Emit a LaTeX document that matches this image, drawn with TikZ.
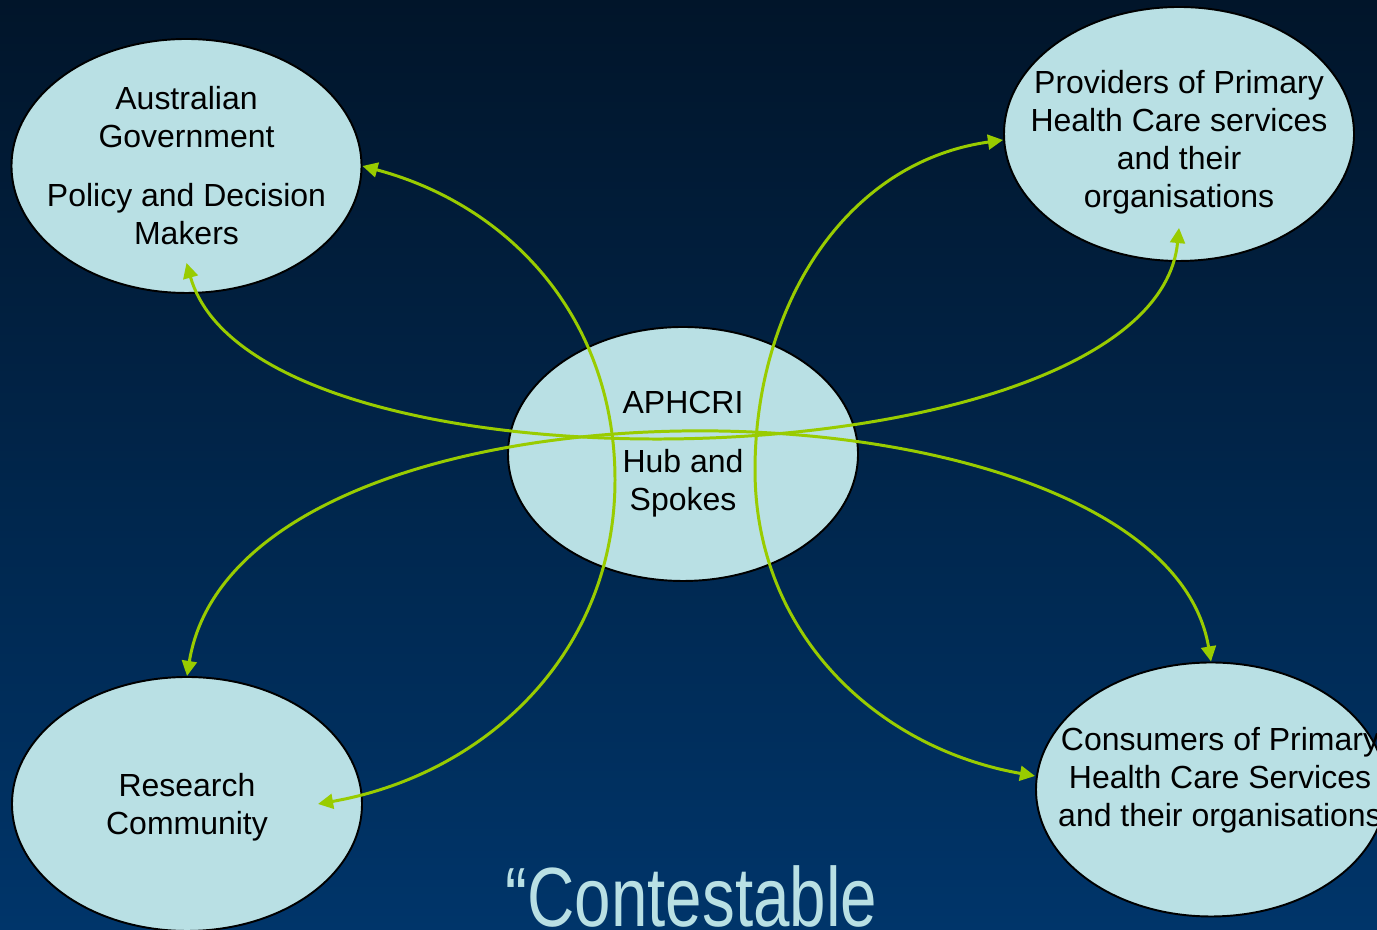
\documentclass[tikz,border=0pt]{standalone}
\usepackage{fontspec}
\setmainfont{Liberation Sans}
\usepackage{graphicx}
\usetikzlibrary{arrows.meta, shapes.geometric}

% colors
\definecolor{bgtop}{RGB}{1,21,42}
\definecolor{bgmid}{RGB}{0,42,86}
\definecolor{bgbot}{RGB}{0,53,106}
\definecolor{bubblefill}{RGB}{185,224,228}
\definecolor{linkgreen}{RGB}{153,204,0}

\begin{document}
\begin{tikzpicture}

% -------------------------------------------------------
% Layout parameters
% -------------------------------------------------------
\def\slideW{13.77}   % slide width
\def\slideH{9.30}    % slide height
\def\bw{3.50cm}      % bubble width
\def\bh{2.54cm}      % bubble height

% bubble centres
\def\xGov{1.865}   \def\yGov{7.64}
\def\xProv{11.79}  \def\yProv{7.96}
\def\xHub{6.83}    \def\yHub{4.76}
\def\xRes{1.87}    \def\yRes{1.26}
\def\xCons{12.11}  \def\yCons{1.405}

\tikzset{
  bubble/.style={ellipse, draw=black, line width=0.55pt, fill=bubblefill,
    minimum width=\bw, minimum height=\bh, inner sep=0pt},
  bubbletext/.style={align=center, inner sep=0pt, text=black,
    font=\fontsize{9.1}{10.8}\selectfont},
  link/.style={linkgreen, line width=0.85pt,
    {Triangle[length=4.3pt,width=4.2pt]}-{Triangle[length=4.3pt,width=4.2pt]}},
}

\useasboundingbox (0,0) rectangle (\slideW,\slideH);
\clip (0,0) rectangle (\slideW,\slideH);

% background
\shade[top color=bgtop, middle color=bgmid, bottom color=bgbot] (0,0) rectangle (\slideW,\slideH);

%%%%%% DRAW BUBBLES
\node[bubble] (gov)  at (\xGov,\yGov)   {};
\node[bubble] (prov) at (\xProv,\yProv) {};
\node[bubble] (hub)  at (\xHub,\yHub)   {};
\node[bubble] (res)  at (\xRes,\yRes)   {};
\node[bubble] (cons) at (\xCons,\yCons) {};

\node[bubbletext] (govText)  at (gov.center) {Australian\\Government\\[6pt]Policy and Decision\\Makers};
\node[bubbletext] (provText) at ([yshift=-0.85mm]prov.center) {Providers of Primary\\Health Care services\\and their\\organisations};
\node[bubbletext] (hubText)  at (hub.center) {APHCRI\\[6pt]Hub and\\Spokes};
\node[bubbletext] (resText)  at ([yshift=-0.3mm]res.center) {Research\\Community};
\node[bubbletext] (consText) at ([shift={(0.9mm,0.95mm)}]cons.center) {Consumers of Primary\\Health Care Services\\and their organisations};

%%%%%% DRAW LINKS
% the two vertical links bend round the hub
\coordinate (govResBend)   at (6.15,4.50);
\coordinate (provConsBend) at (7.55,4.60);

\draw[link] (gov.east) to[out=-15,in=90] (govResBend) to[out=-90,in=10] ([xshift=-4.5mm]res.east);
\draw[link] ([yshift=-0.6mm]prov.west) to[out=188,in=90] (provConsBend) to[out=-90,in=170] ([yshift=1.35mm]cons.west);
\draw[link] ([yshift=3.1mm]gov.south) .. controls +(0.70,-2.47) and +(-0.25,-2.58) .. ([yshift=3.4mm]prov.south);
\draw[link] (res.north) .. controls +(0.53,3.27) and +(-0.50,2.98) .. (cons.north);

%%% TITLE
\node[anchor=base, inner sep=0pt, text=bubblefill, font=\fontsize{23.9}{28}\selectfont] (title) at (6.915,0.03) {\scalebox{0.78}[1]{“Contestable}};

\end{tikzpicture}
\end{document}
